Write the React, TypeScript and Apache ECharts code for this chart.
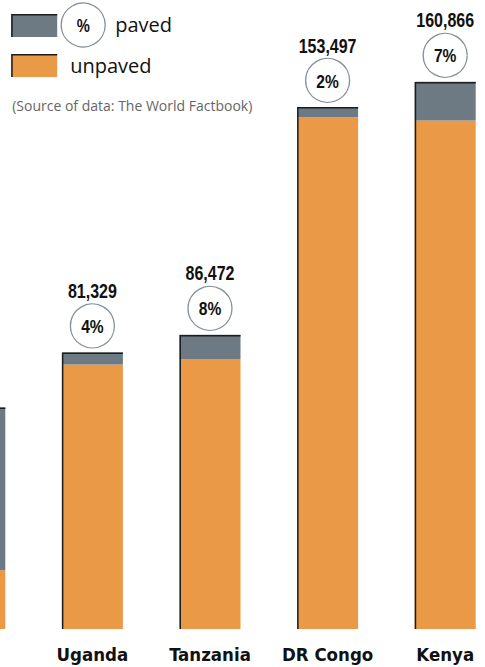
import React, { useEffect, useRef } from "react";
import * as echarts from "echarts";

const categories = ["", "Uganda", "Tanzania", "DR Congo", "Kenya"];
const pavedKm = [47800, 3500, 7100, 3000, 11400];
const unpavedKm = [17300, 77800, 79400, 150500, 149500];
const totalKm = [65100, 81329, 86472, 153497, 160866];
const totalLabels = ["", "81,329", "86,472", "153,497", "160,866"];
const pavedShareLabels = ["", "4%", "8%", "2%", "7%"];

const GRAY = "#6d7a84";
const ORANGE = "#ea9a46";
const EDGE = "#1c1c1c";
const RING = "#86909a";
const BOLD = "'Liberation Sans', Arial, sans-serif";
const CONDENSED = "'DejaVu Sans Condensed', 'Liberation Sans Narrow', sans-serif";
const HUMAN = "'Open Sans', 'Noto Sans', sans-serif";

const OX = 84.2; // chart canvas extends beyond the left edge of the view
const CHART_W = 588;

export default function App() {
  const ref = useRef<HTMLDivElement>(null);
  useEffect(() => {
    const chart = echarts.init(ref.current!, null, { renderer: "svg" });
    const BAR_W = 61;
    const narrowText = (x: number, y: number, text: string, size: number) => ({
      type: "text",
      x,
      y,
      scaleX: 0.82,
      style: {
        text,
        fontSize: size,
        fontWeight: "bold",
        fontFamily: BOLD,
        fill: "#111",
        align: "center",
        verticalAlign: "middle",
      },
    });
    chart.setOption({
      animation: false,
      backgroundColor: "#ffffff",
      grid: { left: 0, right: 0, top: 16.8, bottom: 38, containLabel: false },
      xAxis: {
        type: "category",
        data: categories,
        axisLine: { show: false },
        axisTick: { show: false },
        axisLabel: {
          interval: 0,
          margin: 16,
          fontSize: 18.5,
          fontWeight: "bold",
          fontFamily: CONDENSED,
          color: "#111",
        },
      },
      yAxis: {
        type: "value",
        min: 0,
        max: 180000,
        show: false,
        splitLine: { show: false },
      },
      series: [
        {
          name: "unpaved",
          type: "bar",
          stack: "roads",
          data: unpavedKm,
          barWidth: BAR_W,
          itemStyle: { color: ORANGE },
        },
        {
          name: "paved",
          type: "bar",
          stack: "roads",
          data: pavedKm,
          barWidth: BAR_W,
          itemStyle: { color: GRAY },
        },
        {
          name: "labels",
          type: "custom",
          z: 10,
          data: totalKm.map((v, i) => [i, v]),
          renderItem: (params: any, api: any) => {
            const i = api.value(0);
            const top = api.coord([i, api.value(1)]);
            const base = api.coord([i, 0]);
            const half = BAR_W / 2;
            const x = top[0];
            const y = top[1];
            const children: any[] = [
              {
                type: "polyline",
                shape: {
                  points: [
                    [x - half + 0.75, base[1]],
                    [x - half + 0.75, y + 0.75],
                    [x + half, y + 0.75],
                  ],
                },
                style: { stroke: EDGE, lineWidth: 1.5, fill: null },
              },
            ];
            if (totalLabels[i]) {
              children.push(
                {
                  type: "circle",
                  shape: { cx: x, cy: y - 26.5, r: 22 },
                  style: { fill: "#fff", stroke: RING, lineWidth: 1.3 },
                },
                narrowText(x, y - 26, pavedShareLabels[i], 19),
                narrowText(x, y - 61, totalLabels[i], 19.5)
              );
            }
            return { type: "group", children };
          },
        },
      ],
      graphic: [
        { type: "rect", shape: { x: OX + 11, y: 14, width: 46, height: 23 }, style: { fill: GRAY } },
        {
          type: "polyline",
          shape: { points: [[OX + 11.75, 37], [OX + 11.75, 14.75], [OX + 57, 14.75]] },
          style: { stroke: EDGE, lineWidth: 1.5, fill: null },
        },
        { type: "rect", shape: { x: OX + 11, y: 54, width: 46, height: 23 }, style: { fill: ORANGE } },
        {
          type: "polyline",
          shape: { points: [[OX + 11.75, 77], [OX + 11.75, 54.75], [OX + 57, 54.75]] },
          style: { stroke: EDGE, lineWidth: 1.5, fill: null },
        },
        {
          type: "circle",
          shape: { cx: OX + 83, cy: 25, r: 22 },
          style: { fill: "#fff", stroke: RING, lineWidth: 1.3 },
        },
        narrowText(OX + 83, 25.5, "%", 18),
        {
          type: "text",
          x: OX + 115,
          y: 24,
          style: {
            text: "paved",
            fontSize: 20,
            fontFamily: HUMAN,
            fill: "#111",
            align: "left",
            verticalAlign: "middle",
          },
        },
        {
          type: "text",
          x: OX + 70,
          y: 65,
          style: {
            text: "unpaved",
            fontSize: 20,
            fontFamily: HUMAN,
            fill: "#111",
            align: "left",
            verticalAlign: "middle",
          },
        },
        {
          type: "text",
          x: OX + 12,
          y: 105,
          style: {
            text: "(Source of data: The World Factbook)",
            fontSize: 14,
            fontFamily: HUMAN,
            fill: "#666",
            align: "left",
            verticalAlign: "middle",
          },
        },
      ],
    });
    return () => chart.dispose();
  }, []);
  return (
    <div
      style={{
        position: "absolute",
        left: 0,
        top: 0,
        width: 485,
        height: 667,
        overflow: "hidden",
        background: "#fff",
      }}
    >
      <div
        ref={ref}
        style={{ position: "absolute", left: -OX, top: 0, width: CHART_W, height: 667 }}
      />
    </div>
  );
}
